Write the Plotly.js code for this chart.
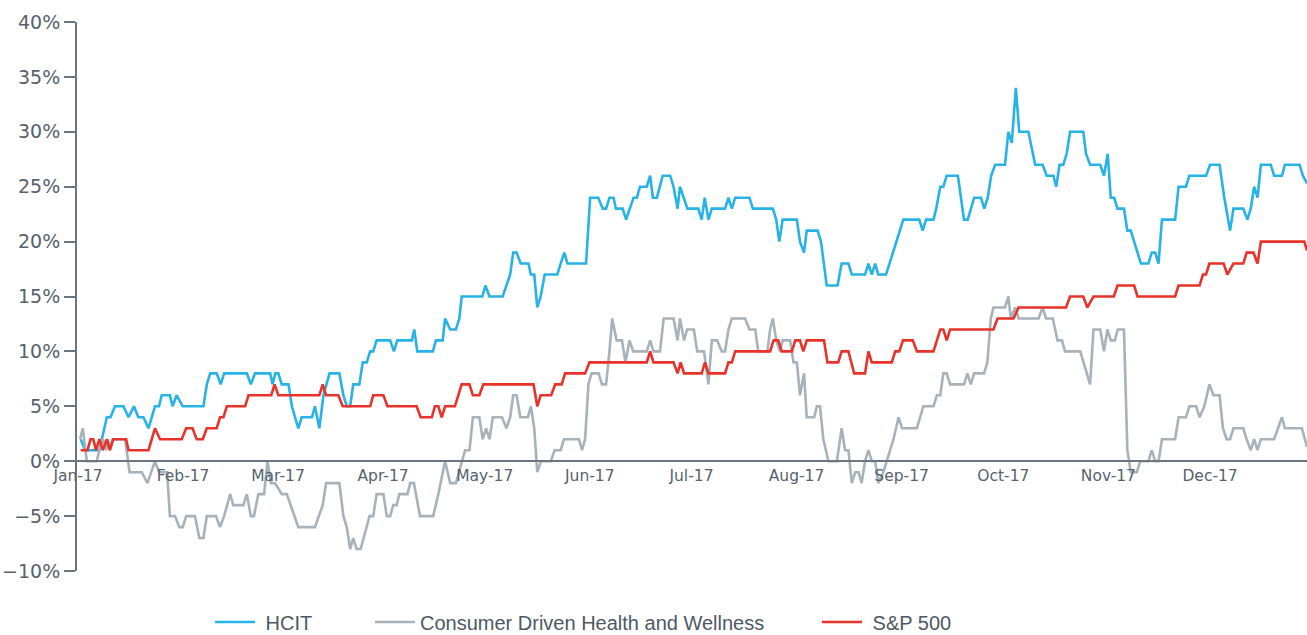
<!DOCTYPE html>
<html>
<head>
<meta charset="utf-8">
<script src="https://cdn.plot.ly/plotly-3.0.1.min.js"></script>
<style>html,body{margin:0;padding:0;background:#fff;}#chart{width:1307px;height:635px;}</style>
</head>
<body>
<div id="chart"></div>
<script>
// Days are counted from 1 Jan 2017 (day 0 = Jan 1); values are % returns
const hcitDays = [0.8,2.1,6.3,8.5,9.6,10.9,13.4,14.9,16.5,17.8,
19.3,20.8,22.7,23.9,24.7,27.1,27.9,29.1,30.9,37,
38,39,40.9,42.1,43.1,49.8,51,52.2,56.7,57.4,
58.2,59.1,60.1,62.1,63.1,64,65,66,69,69.9,
71.2,72.4,73.2,74.2,77.1,78.3,79.3,80.3,81.2,83,
84,85.2,86.2,87.1,88.1,92.1,93.2,94.2,98.5,99.2,
100.1,104.7,105.6,107.6,108.3,109.8,111.5,112.5,113.2,119.3,
120.2,121.4,125.3,126.5,127.5,128.4,129.4,130.6,132.9,133.6,
134.6,135.5,136.5,137.7,141.4,142.4,143.5,144.4,149.9,151.1,
153.5,154.8,155.8,156.8,158,158.7,160.7,161.7,162.9,163.9,
164.9,165.8,167.8,168.8,169.6,170.8,172.5,174.7,175.7,176.9,
177.6,178.8,179.8,183,184,184.9,186,187,190.9,191.9,
192.9,193.9,198.1,199.1,205,206,206.9,207.9,212.1,213,
214.2,215,218.2,219.2,220.9,224.1,225.3,227.3,228.3,232.2,
233.2,234.2,235.2,236.1,238.4,243.5,248.2,249.2,250.2,252.4,
253.2,254.4,255.3,256.3,259.6,260.5,261.4,262.5,264.4,266.4,
267.4,268.4,269.4,270.6,273.5,274.5,275.5,276.7,277.7,280.4,
281.6,282.4,284.6,285.8,287.8,288.6,289.6,290.7,291.7,292.7,
296.6,297.4,298.6,301.6,302.7,303.8,304.7,305.7,306.7,308.6,
309.6,310.6,313.6,315.8,316.8,317.8,318.8,319.8,323.7,324.7,
326.9,327.9,332.8,334,336.8,338.2,339.9,340.9,343.8,345,
346,347,348,349,351.9,352.9,355.2,356.1,360.4,361.4,
362.6];
const hcitValues = [2,1,1,4,4,5,5,4,5,4,
4,3,5,5,6,6,5,6,5,5,
7,8,8,7,8,8,7,8,8,7,
8,8,7,7,5,4,3,4,4,5,
3,6,7,8,8,6,5,5,7,7,
9,9,10,10,11,11,10,11,11,12,
10,10,11,11,13,12,12,13,15,15,
16,15,15,16,17,19,19,18,18,17,
17,14,15,17,17,18,19,18,18,24,
24,23,23,24,24,23,23,22,23,24,
24,25,25,26,24,24,26,26,25,23,
25,24,23,23,22,24,22,23,23,24,
23,24,24,23,23,22,20,22,22,20,
19,21,21,20,16,16,18,18,17,17,
18,17,18,17,17,22,22,21,22,22,
23,25,25,26,26,24,22,22,24,24,
23,24,26,27,27,30,29,34,30,30,
28,27,27,26,26,25,27,27,28,30,
30,28,27,27,26,28,24,24,23,23,
21,21,18,18,19,19,18,22,22,25,
25,26,26,27,27,24,21,23,23,22,
23,25,24,27,27,26,26,27,27,26,
25.3];

const cdhwDays = [0.6,1.4,2.6,5.5,6.3,7.3,8.3,8.9,9.4,10.2,
13.9,15.2,18.8,20.5,22.7,23.9,26.3,27.1,28.6,29.9,
30.9,31.9,34.5,35.8,37,38,40.7,41.9,43.1,43.9,
44.9,45.8,48.8,49.8,51,51.9,53.2,54.9,55.9,56.9,
58.1,60.1,61.6,65,69.9,72.2,73.2,77.1,78.3,79.3,
80.3,81.2,82.2,83.4,86,87.1,88.1,90.1,91.1,92.1,
93,94,94.8,97.2,98,99.1,100.9,104.8,106.3,108.3,
109.8,111.5,113.2,114.2,115.5,116.5,118.4,119.4,120.4,121.4,
122.4,125.1,126.4,127.5,128.4,129.4,130.5,132.7,133.6,134.6,
135.5,136.6,139.5,140.6,142.4,143.4,147.8,148.7,149.6,150.6,
151.5,153.6,154.6,155.8,156.8,157.6,158.9,160.5,161.5,162.7,
163.8,167.8,168.8,169.8,171.7,172.8,175.7,176.9,177.6,178.8,
179.7,181.7,182.7,184.7,186,187,188.6,189.9,190.9,191.9,
192.9,196.8,198.1,199.8,200.7,203.4,204.2,205,206,207.1,
207.9,210.1,211.1,212.1,213,214.2,215,217.2,218,218.9,
219.9,221.4,223.9,225.3,226.3,227.3,228.3,229.3,230.3,231.2,
232.2,233.2,234.2,235.2,236.1,237.6,238.6,240.6,242.1,243.1,
247.5,249.4,252.4,253.4,254.4,255.3,256.3,257.3,261.4,262.4,
263.4,264.4,267.3,268.3,269.3,270.1,273.5,274.5,275.2,276.5,
277.5,283.4,284.6,285.6,287.6,289,290.3,291.2,295.7,298.6,
299.6,301.6,302.7,303.7,304.7,305.9,306.8,308.6,309.6,310.6,
312.4,313.4,315.8,316.8,317.8,318.8,319.8,323.7,324.7,326.9,
327.9,329.9,330.9,332.3,333.8,335,336.8,337.8,338.9,339.9,
340.9,343.8,344.8,346,347,348,349,352.9,355.2,356.1,
361.1,362.6];
const cdhwValues = [2,3,0,0,1,2,1,2,1,2,
2,-1,-1,-2,0,-1,-1,-5,-5,-6,
-6,-5,-5,-7,-7,-5,-5,-6,-5,-4,
-3,-4,-4,-3,-5,-5,-3,-3,0,-2,
-2,-3,-3,-6,-6,-4,-2,-2,-5,-6,
-8,-7,-8,-8,-5,-5,-3,-3,-5,-5,
-4,-4,-3,-3,-2,-2,-5,-5,-3,0,
-2,-2,0,1,1,4,4,2,3,2,
4,4,3,4,6,6,4,4,5,3,
-1,0,0,1,1,2,2,1,2,7,
8,8,7,7,10,13,11,11,9,11,
10,10,11,10,10,13,13,11,13,11,
12,12,10,10,7,11,11,10,10,12,
13,13,12,12,10,10,12,13,11,10,
11,11,9,9,6,8,4,4,5,5,
2,0,0,3,1,1,-2,-1,-1,-2,
0,1,0,0,-2,-1,0,2,4,3,
3,5,5,6,6,8,8,7,7,8,
7,8,8,9,13,14,14,15,13,14,
13,13,14,13,13,11,11,10,10,7,
12,12,10,12,11,11,12,12,1,-1,
-1,0,0,1,0,0,2,2,4,4,
5,5,4,5,7,6,6,3,2,2,
3,3,2,1,2,1,2,2,4,3,
3,1.3];

const spDays = [0.8,2.8,3.7,4.5,5.3,6.3,7.3,8.5,9.4,10.4,
14.2,14.9,20.8,22.7,24.2,30.6,31.9,33.8,35,36.8,
38,40.9,41.9,42.9,43.9,49.3,50.3,57,58,59.1,
71.2,72.2,73.2,76.8,78.1,86.2,87.1,90.1,91.3,99.9,
101.1,104.4,105.3,106.3,107.3,108.3,111.2,112.2,113.2,115.5,
116.5,118.4,119.6,134.4,135.5,136.5,139.6,140.8,142.7,143.7,
149.6,150.9,167.8,168.8,169.8,175.7,176.9,177.8,178.8,184,
185,186,190.9,191.9,192.9,193.9,204.2,205.2,206.6,207.6,
210.6,211.6,213,214,215,220.1,221.1,224.3,225.3,227.3,
229,232.2,233.2,234.2,240.1,241.1,242.3,243.4,246.3,247.5,
252.4,254.4,255.3,256.3,257.3,270.1,271.3,276,277.5,291.5,
292.7,296.6,297.8,299.6,305.6,306.7,311.6,312.6,323.7,324.7,
330.9,331.9,332.8,333.8,338,339.1,340.9,343.8,344.8,346.8,
348,349,361.8,362.6];
const spValues = [1,1,2,2,1,2,1,2,1,2,
2,1,1,3,2,2,3,3,2,2,
3,3,4,4,5,5,6,6,7,6,
6,7,6,6,5,5,6,6,5,5,
4,4,5,5,4,5,5,6,7,7,
6,6,7,7,5,6,6,7,7,8,
8,9,9,10,9,9,8,9,8,8,
9,8,8,9,9,10,10,11,11,10,
10,11,11,10,11,11,9,9,10,10,
8,8,10,9,9,10,10,11,11,10,
10,12,12,11,12,12,13,13,14,14,
15,15,14,15,15,16,16,15,15,16,
16,17,17,18,18,17,18,18,19,19,
18,20,20,19.2];

const seriesNames = ['HCIT', 'Consumer Driven Health and Wellness', 'S&P 500'];
const seriesColors = ['#27b3e6', '#a8b2ba', '#e8322a'];
const namePads = ['\u00a0', '', '\u00a0'];

function toDate(d) {
  const t = new Date(Date.UTC(2017, 0, 1) + Math.round(d * 86400000));
  return t.toISOString().slice(0, 19).replace('T', ' ');
}

const allDays = [hcitDays, cdhwDays, spDays];
const allValues = [hcitValues, cdhwValues, spValues];
const legendIds = ['legend', 'legend2', 'legend3'];

const traces = allDays.map((days, i) => ({
  type: 'scatter',
  mode: 'lines',
  name: namePads[i] + seriesNames[i],
  x: days.map(toDate),
  y: allValues[i],
  line: {color: seriesColors[i], width: 2.6},
  legend: legendIds[i],
  hoverinfo: 'skip'
}));

const axisColor = '#6a7682';
const labelColor = '#56626d';
const legendFont = {family: 'Liberation Sans, Arial, sans-serif', size: 20, color: '#4d5964'};
function legendAt(px) {
  return {orientation: 'h', xref: 'container', yref: 'container', x: px / 1307, y: 1 - 622 / 635,
          xanchor: 'left', yanchor: 'middle', bgcolor: 'rgba(0,0,0,0)', font: legendFont,
          itemwidth: 40, borderwidth: 0};
}

const layout = {
  width: 1307, height: 635,
  margin: {l: 77, r: 0, t: 22, b: 64, autoexpand: false},
  paper_bgcolor: '#ffffff', plot_bgcolor: '#ffffff',
  showlegend: true,
  legend: legendAt(210),
  legend2: legendAt(370),
  legend3: legendAt(817),
  xaxis: {
    type: 'date',
    range: [toDate(-0.3), toDate(362.6)],
    anchor: 'free', position: 0.2,
    showline: true, linecolor: axisColor, linewidth: 2,
    showgrid: false, zeroline: false,
    ticks: '', dtick: 'M1', tick0: '2017-01-01', tickformat: '%b-%y',
    tickfont: {family: 'DejaVu Sans, sans-serif', size: 15.5, color: labelColor}
  },
  yaxis: {
    range: [-10, 40], dtick: 5, tick0: 0, ticksuffix: '%',
    showline: true, linecolor: axisColor, linewidth: 2,
    ticks: 'outside', ticklen: 11, tickwidth: 2, tickcolor: axisColor,
    showgrid: false, zeroline: false,
    tickfont: {family: 'DejaVu Sans, sans-serif', size: 19, color: labelColor}
  }
};

Plotly.newPlot('chart', traces, layout, {displayModeBar: false, staticPlot: true});
</script>
</body>
</html>
